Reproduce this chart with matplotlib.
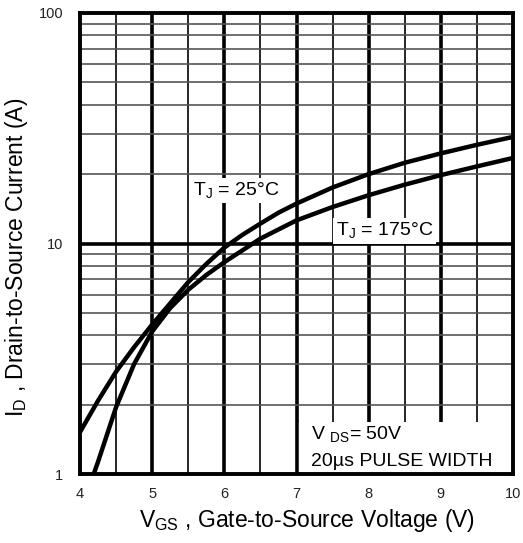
import matplotlib
matplotlib.use("Agg")
import matplotlib.pyplot as plt
from matplotlib.ticker import FixedLocator, NullFormatter, FixedFormatter
from matplotlib.patches import Rectangle
import numpy as np

plt.rcParams['font.family'] = ['Liberation Sans', 'DejaVu Sans']

# Data
vgs_25 = [4.0, 4.25, 4.5, 4.75, 5.0, 5.25, 5.5, 5.75, 6.0, 6.25, 6.5, 6.75, 7.0, 7.5, 8.0, 8.5, 9.0, 9.5, 10.0]
id_25 = [1.52, 2.08, 2.78, 3.55, 4.45, 5.5, 6.8, 8.15, 9.6, 10.9, 12.2, 13.6, 14.9, 17.5, 20.0, 22.4, 24.6, 26.8, 29.0]

vgs_175 = [4.19, 4.25, 4.5, 4.75, 5.0, 5.25, 5.5, 5.75, 6.0, 6.5, 7.0, 7.5, 8.0, 8.5, 9.0, 9.5, 10.0]
id_175 = [1.0, 1.13, 1.95, 3.0, 4.15, 5.25, 6.3, 7.3, 8.3, 10.5, 12.6, 14.4, 16.2, 18.0, 19.8, 21.6, 23.5]

x_ticks = [4, 5, 6, 7, 8, 9, 10]
x_ticklabels = ["4", "5", "6", "7", "8", "9", "10"]
y_ticks = [1, 10, 100]
y_ticklabels = ["1", "10", "100"]

fig = plt.figure(figsize=(5.23, 5.43), dpi=100)
ax = fig.add_axes([80/523, 1-474/543, 433/523, 461/543])
ax.set_yscale('log')
ax.set_xlim(4, 10)
ax.set_ylim(1, 100)

# grid
for xv in np.arange(4.5, 10, 1.0):
    ax.axvline(xv, color='black', lw=1.2, zorder=1)
for xv in range(5, 10):
    ax.axvline(xv, color='black', lw=2.6, zorder=1)
for dec in [1, 10]:
    for m in range(2, 10):
        ax.axhline(dec*m, color='#555555', lw=1.2, zorder=1)
ax.axhline(10, color='black', lw=2.6, zorder=1)

ax.plot(vgs_25, id_25, color='black', lw=3.2, solid_capstyle='butt', zorder=3)
ax.plot(vgs_175, id_175, color='black', lw=3.2, solid_capstyle='butt', zorder=3)

ax.xaxis.set_major_locator(FixedLocator(x_ticks))
ax.xaxis.set_major_formatter(FixedFormatter(x_ticklabels))
ax.yaxis.set_major_locator(FixedLocator(y_ticks))
ax.yaxis.set_major_formatter(FixedFormatter(y_ticklabels))
ax.yaxis.set_minor_formatter(NullFormatter())
ax.tick_params(which='both', length=0)
ax.tick_params(axis='x', pad=9, labelsize=10.5, colors='#222222')
ax.tick_params(axis='y', pad=12, labelsize=10.5, colors='#222222')

for s in ax.spines.values():
    s.set_linewidth(2.8)
    s.set_zorder(5)

bbox = dict(facecolor='white', edgecolor='none', pad=2)
ax.text(5.57, 17.0, r'T$_{\mathregular{J}}$ = 25°C', fontsize=14, ha='left', va='center', bbox=bbox, zorder=4)
ax.text(7.55, 11.3, r'T$_{\mathregular{J}}$ = 175°C', fontsize=14, ha='left', va='center', bbox=bbox, zorder=4)

# condition box
ax.add_patch(Rectangle((7.0, 1.0), 3.0, 0.68, transform=ax.transData, facecolor='white',
                       edgecolor='none', zorder=4))
ax.plot([7.0, 7.0], [1.0, 1.68], color='black', lw=1.8, zorder=4)
ax.text(7.2, 1.48, r'V $_{\mathregular{DS}}$= 50V', fontsize=14, ha='left', va='center', zorder=5)
ax.text(7.2, 1.13, '20µs PULSE WIDTH', fontsize=14, ha='left', va='center', zorder=5)

ax.set_xlabel(r'V$_{\mathregular{GS}}$ , Gate-to-Source Voltage (V)', fontsize=16.5)
ax.set_ylabel(r'I$_{\mathregular{D}}$ , Drain-to-Source Current (A)', fontsize=16.5)
ax.xaxis.set_label_coords(0.525, -0.072)
ax.yaxis.set_label_coords(-0.115, 0.47)

fig.savefig('out.png', dpi=100)
